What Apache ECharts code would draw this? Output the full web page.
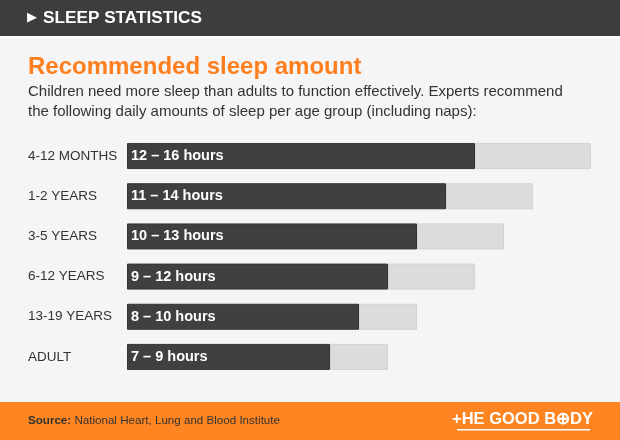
<!DOCTYPE html>
<html><head><meta charset="utf-8">
<script src="https://cdn.jsdelivr.net/npm/echarts@6/dist/echarts.min.js"></script>
<style>html,body{margin:0;padding:0;background:#f5f5f5}#c{width:620px;height:440px}</style>
</head><body><div id="c"></div>
<script>
const categories = ['4-12 MONTHS','1-2 YEARS','3-5 YEARS','6-12 YEARS','13-19 YEARS','ADULT'];
const minHours = [12, 11, 10, 9, 8, 7];
const maxHours = [16, 14, 13, 12, 10, 9];
const extraHours = maxHours.map((m, i) => m - minHours[i]);

const FONT = '"Liberation Sans", Arial, Helvetica, sans-serif';
const chart = echarts.init(document.getElementById('c'));
chart.setOption({
  backgroundColor: '#f5f5f5',
  animation: false,
  grid: { left: 127, right: 29, top: 136, height: 241 },
  xAxis: { type: 'value', min: 0, max: 16, show: false },
  yAxis: {
    type: 'category', data: categories, inverse: true,
    axisLine: { show: false }, axisTick: { show: false },
    axisLabel: { align: 'left', margin: 99, color: '#333', fontSize: 13.5, fontFamily: FONT }
  },
  series: [
    {
      type: 'bar', stack: 's', data: minHours, barWidth: 26,
      itemStyle: { color: '#404040', borderColor: '#333', borderWidth: 1 },
      label: {
        show: true, position: 'insideLeft', distance: 4, color: '#fff',
        fontSize: 14.5, fontWeight: 'bold', fontFamily: FONT,
        formatter: p => minHours[p.dataIndex] + ' – ' + maxHours[p.dataIndex] + ' hours'
      }
    },
    {
      type: 'bar', stack: 's', data: extraHours, barWidth: 26,
      itemStyle: { color: '#dcdcdc', borderColor: '#d2d2d2', borderWidth: 1 }
    }
  ],
  graphic: [
    { type: 'rect', shape: { x: 0, y: 0, width: 620, height: 36 }, style: { fill: '#3d3d3d' } },
    { type: 'rect', shape: { x: 0, y: 36, width: 620, height: 2 }, style: { fill: '#ffffff' } },
    { type: 'text', x: 27, y: 18, style: { text: '▶', fill: '#fff', font: '13px "DejaVu Sans", sans-serif', textVerticalAlign: 'middle' } },
    { type: 'text', x: 43, y: 18, style: { text: 'SLEEP STATISTICS', fill: '#fff', font: 'bold 17.2px ' + FONT, textVerticalAlign: 'middle' } },
    { type: 'text', x: 28, y: 67, style: { text: 'Recommended sleep amount', fill: '#ff7f1e', font: 'bold 24px ' + FONT, textVerticalAlign: 'middle' } },
    { type: 'text', x: 28, y: 92, style: { text: 'Children need more sleep than adults to function effectively. Experts recommend', fill: '#333', font: '15px ' + FONT, textVerticalAlign: 'middle' } },
    { type: 'text', x: 28, y: 112, style: { text: 'the following daily amounts of sleep per age group (including naps):', fill: '#333', font: '15px ' + FONT, textVerticalAlign: 'middle' } },
    { type: 'rect', shape: { x: 0, y: 402, width: 620, height: 38 }, style: { fill: '#ff8522' } },
    { type: 'text', x: 28, y: 421, style: { text: '{b|Source:} National Heart, Lung and Blood Institute', fill: '#333', font: '11.6px ' + FONT, textVerticalAlign: 'middle', rich: { b: { fontWeight: 'bold', fontSize: 11.6, fontFamily: FONT, fill: '#333' } } } },
    { type: 'text', x: 593, y: 419, style: { text: '+HE GOOD B⊕DY', fill: '#fff', font: 'bold 16.5px ' + FONT, textAlign: 'right', textVerticalAlign: 'middle' } },
    { type: 'rect', shape: { x: 457, y: 429, width: 133, height: 1.5 }, style: { fill: '#fff' } }
  ]
});
</script></body></html>
